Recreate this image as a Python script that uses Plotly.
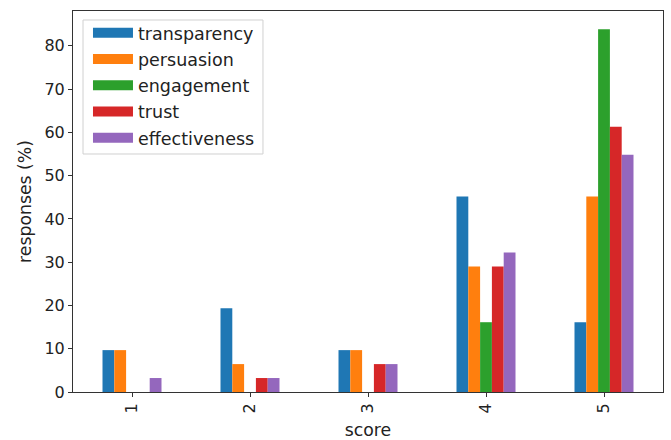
import plotly.graph_objects as go

scores = ["1", "2", "3", "4", "5"]
transparency = [9.68, 19.35, 9.68, 45.16, 16.13]
persuasion = [9.68, 6.45, 9.68, 29.03, 45.16]
engagement = [0, 0, 0, 16.13, 83.87]
trust = [0, 3.23, 6.45, 29.03, 61.29]
effectiveness = [3.23, 3.23, 6.45, 32.26, 54.84]

series = [
    ("transparency", transparency, "#1f77b4"),
    ("persuasion", persuasion, "#ff7f0e"),
    ("engagement", engagement, "#2ca02c"),
    ("trust", trust, "#d62728"),
    ("effectiveness", effectiveness, "#9467bd"),
]

fig = go.Figure()
for name, vals, col in series:
    fig.add_trace(go.Bar(x=scores, y=vals, name=name, marker=dict(color=col, line=dict(width=0)),
                         showlegend=False))
for name, vals, col in series:
    fig.add_trace(go.Scatter(x=[None], y=[None], mode="lines", name=name,
                             line=dict(color=col, width=12), legendgroup=name))

# legend frame (matplotlib style)
fig.add_shape(type="rect", xref="paper", yref="paper", x0=0.017, x1=0.322, y0=0.6247, y1=0.9764,
              line=dict(color="#d0d0d0", width=1), fillcolor="rgba(255,255,255,0.8)", layer="above")

font = "DejaVu Sans"
fig.update_layout(
    width=671, height=440,
    margin=dict(l=73, r=8, t=11, b=48, autoexpand=False),
    paper_bgcolor="white", plot_bgcolor="white",
    barmode="group", bargap=0.5, bargroupgap=0,
    font=dict(family=font, size=16, color="#222"),
    legend=dict(x=0.0254, y=0.990, xanchor="left", yanchor="top",
                bgcolor="rgba(0,0,0,0)", borderwidth=0,
                font=dict(size=17.5), tracegroupgap=0.5, itemwidth=40),
    xaxis=dict(type="category", range=[-0.5, 4.5], tickangle=-90, automargin=False,
               showline=True, linecolor="#333", linewidth=1, mirror=True,
               ticks="outside", ticklen=4, tickcolor="#333", tickfont=dict(size=16),
               title=dict(text="score", standoff=11, font=dict(size=17.3)), showgrid=False),
    yaxis=dict(range=[0, 88.06], tickvals=[0, 10, 20, 30, 40, 50, 60, 70, 80], automargin=False,
               showline=True, linecolor="#333", linewidth=1, mirror=True,
               ticks="outside", ticklen=4, tickcolor="#333", zeroline=False, tickfont=dict(size=16),
               title=dict(text="responses (%)", standoff=8, font=dict(size=17.3)), showgrid=False),
)
fig.write_html("out.html", post_script="document.body.style.margin='0px';",
               config={"displayModeBar": False})
